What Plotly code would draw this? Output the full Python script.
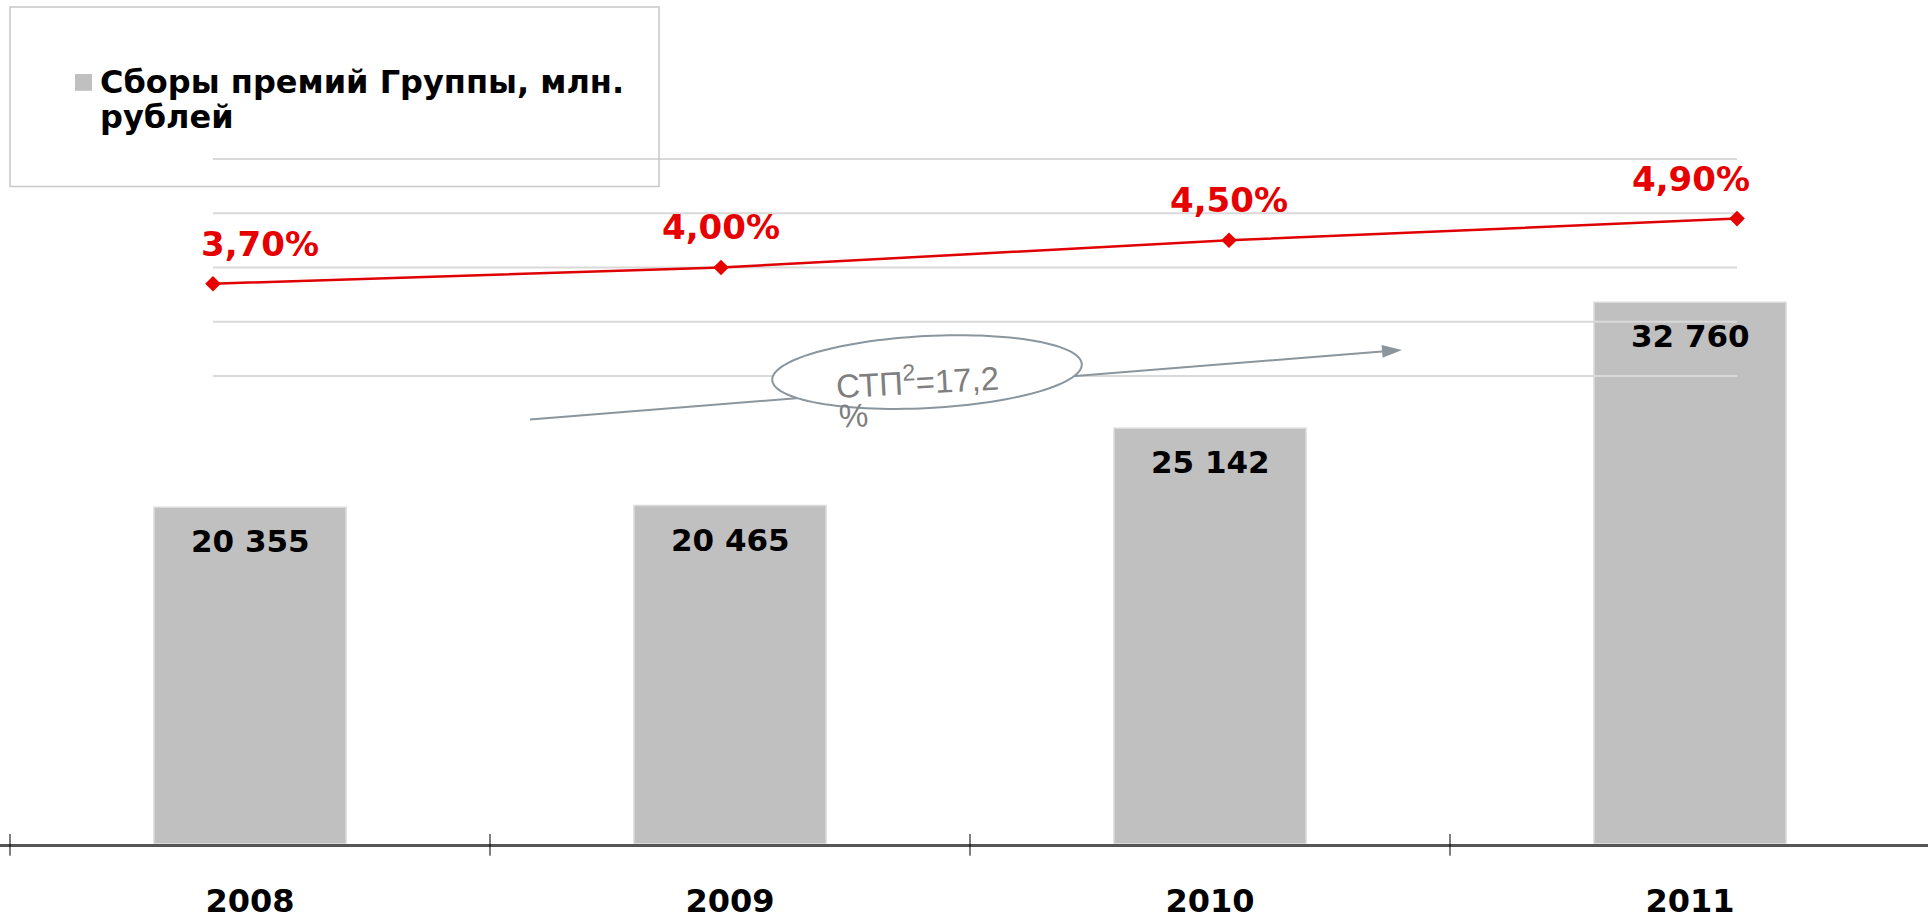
import numpy as np
import plotly.graph_objects as go

# ---------------- data ----------------
YEARS = ["2008", "2009", "2010", "2011"]
PREMIUMS = [20355, 20465, 25142, 32760]          # млн. рублей
MARKET_SHARE = [3.70, 4.00, 4.50, 4.90]          # %
GRID_TICKS = [2, 3, 4, 5, 6]
SERIES_NAME_LINES = ["Сборы премий Группы, млн.", "рублей"]
CAGR_LINES = ["СТП<sup>2</sup>=17,2", "%"]

# ---------------- geometry helpers ----------------
W, H = 1928, 920
AXIS_PX = 855              # pixel row of the category axis
K_BAR = 0.01675            # px per million rub
K_LINE = 55.0              # px per percentage point
REF_PCT, REF_PX = 4.0, 271


def px(x):
    return x / W


def py(y):
    return 1 - y / H


fig = go.Figure()

fig.add_trace(go.Bar(
    x=YEARS, y=PREMIUMS, name=" ".join(SERIES_NAME_LINES),
    marker=dict(color="#c0c0c0", line=dict(color="#dadada", width=1.5)),
    width=0.4, showlegend=False, hoverinfo="x+y",
))

# gridlines of the share axis (drawn over bars, spanning only the line extent)
gx, gy = [], []
for g in GRID_TICKS:
    gx += [YEARS[0], YEARS[-1], None]
    gy += [g, g, None]
fig.add_trace(go.Scatter(
    x=gx, y=gy, xaxis="x2", yaxis="y2", mode="lines",
    line=dict(color="#d9d9d9", width=2), hoverinfo="skip", showlegend=False,
))

fig.add_trace(go.Scatter(
    x=YEARS, y=MARKET_SHARE, xaxis="x2", yaxis="y2", mode="lines+markers",
    line=dict(color="#e00000", width=2.5),
    marker=dict(symbol="diamond", size=12, color="#e80000"),
    showlegend=False,
))

annotations = []
# bar value labels
for i, v in enumerate(PREMIUMS):
    annotations.append(dict(
        x=i, y=v, xref="x", yref="y", text=f"{v:,}".replace(",", " "),
        showarrow=False, yanchor="middle", xanchor="center", yshift=-34,
        font=dict(family="DejaVu Sans", size=31, color="#000000", weight="bold"),
    ))
# share labels
n = len(YEARS)
for i, v in enumerate(MARKET_SHARE):
    if i == 0:
        xa, xs = "left", -14
    elif i == n - 1:
        xa, xs = "right", 15
    else:
        xa, xs = "center", 0
    annotations.append(dict(
        x=i, y=v, xref="x2", yref="y2", text=f"{v:.2f}%".replace(".", ","),
        showarrow=False, yanchor="middle", xanchor=xa, xshift=xs, yshift=40,
        font=dict(family="DejaVu Sans", size=34, color="#e60000", weight="bold"),
    ))
# legend text
for t, yc in zip(SERIES_NAME_LINES, [83, 119]):
    annotations.append(dict(
        x=px(98), y=py(yc), xref="paper", yref="paper", text=t,
        showarrow=False, xanchor="left", yanchor="middle",
        font=dict(family="DejaVu Sans", size=32, color="#000000", weight="bold"),
    ))
# CAGR text inside ellipse (wrapped over two lines as in the original)
for t, (xl, yc) in zip(CAGR_LINES, [(833, 385), (836, 421)]):
    annotations.append(dict(
        x=px(xl), y=py(yc), xref="paper", yref="paper", text=t,
        showarrow=False, xanchor="left", yanchor="middle", textangle=-3,
        font=dict(family="Liberation Sans", size=33, color="#7f7f7f"),
    ))

shapes = []
# legend frame and swatch
shapes.append(dict(type="rect", xref="paper", yref="paper",
                   x0=px(10), x1=px(659), y0=py(189), y1=py(7),
                   line=dict(color="#c8c8c8", width=1.5), fillcolor="rgba(0,0,0,0)"))
shapes.append(dict(type="rect", xref="paper", yref="paper",
                   x0=px(75), x1=px(92), y0=py(92), y1=py(75),
                   line=dict(width=0), fillcolor="#c0c0c0"))
# category boundary ticks crossing the axis
for b in [-0.5, 0.5, 1.5, 2.5]:
    shapes.append(dict(type="line", xref="x", yref="paper", x0=b, x1=b,
                       y0=py(867), y1=py(845), line=dict(color="#000000", width=1)))
# trend arrow
x0a, y0a, x1a, y1a = 530, 425, 1402, 354.5
d = np.array([x1a - x0a, y1a - y0a])
u = d / np.linalg.norm(d)
nrm = np.array([-u[1], u[0]])
base = np.array([x1a, y1a]) - 20 * u
shapes.append(dict(type="line", xref="paper", yref="paper",
                   x0=px(x0a), y0=py(y0a), x1=px(base[0]), y1=py(base[1]),
                   line=dict(color="#8b959e", width=2)))
p1 = base + 6.5 * nrm
p2 = base - 6.5 * nrm
shapes.append(dict(type="path", xref="paper", yref="paper",
                   path=f"M {px(x1a)} {py(y1a)} L {px(p1[0])} {py(p1[1])} L {px(p2[0])} {py(p2[1])} Z",
                   fillcolor="#8b959e", line=dict(width=0)))
# tilted ellipse
cx, cy, rx, ry, ang = 927, 377, 155, 36.5, np.deg2rad(-3)
t = np.linspace(0, 2 * np.pi, 121)
ex = cx + rx * np.cos(t) * np.cos(ang) - ry * np.sin(t) * np.sin(ang)
ey = cy + rx * np.cos(t) * np.sin(ang) + ry * np.sin(t) * np.cos(ang)
path = "M " + " L ".join(f"{px(a):.5f} {py(b):.5f}" for a, b in zip(ex, ey)) + " Z"
shapes.append(dict(type="path", xref="paper", yref="paper", path=path,
                   fillcolor="#ffffff", line=dict(color="#8b959e", width=2)))

ydom = [1 - AXIS_PX / H, 1]
fig.update_layout(
    width=W, height=H, margin=dict(l=0, r=0, t=0, b=0),
    paper_bgcolor="#ffffff", plot_bgcolor="rgba(0,0,0,0)",
    showlegend=False,
    xaxis=dict(type="category", categoryorder="array", categoryarray=YEARS,
               range=[-250 / 480, (W - 250) / 480], domain=[0, 1],
               showline=True, linecolor="#555555", linewidth=3, showgrid=False,
               zeroline=False, ticks="", ticklabelstandoff=27,
               tickfont=dict(family="DejaVu Sans", size=32, color="#000000", weight="bold")),
    yaxis=dict(domain=ydom, range=[0, AXIS_PX / K_BAR], visible=False),
    xaxis2=dict(type="category", categoryorder="array", categoryarray=YEARS,
                overlaying="x", anchor="y2",
                range=[-213 / 508, (W - 213) / 508], visible=False),
    yaxis2=dict(overlaying="y", anchor="x2",
                range=[REF_PCT - (AXIS_PX - REF_PX) / K_LINE, REF_PCT + REF_PX / K_LINE],
                visible=False),
    annotations=annotations, shapes=shapes,
)

fig.write_html("out.html", config={"displayModeBar": False},
               post_script="document.body.style.margin='0';")
